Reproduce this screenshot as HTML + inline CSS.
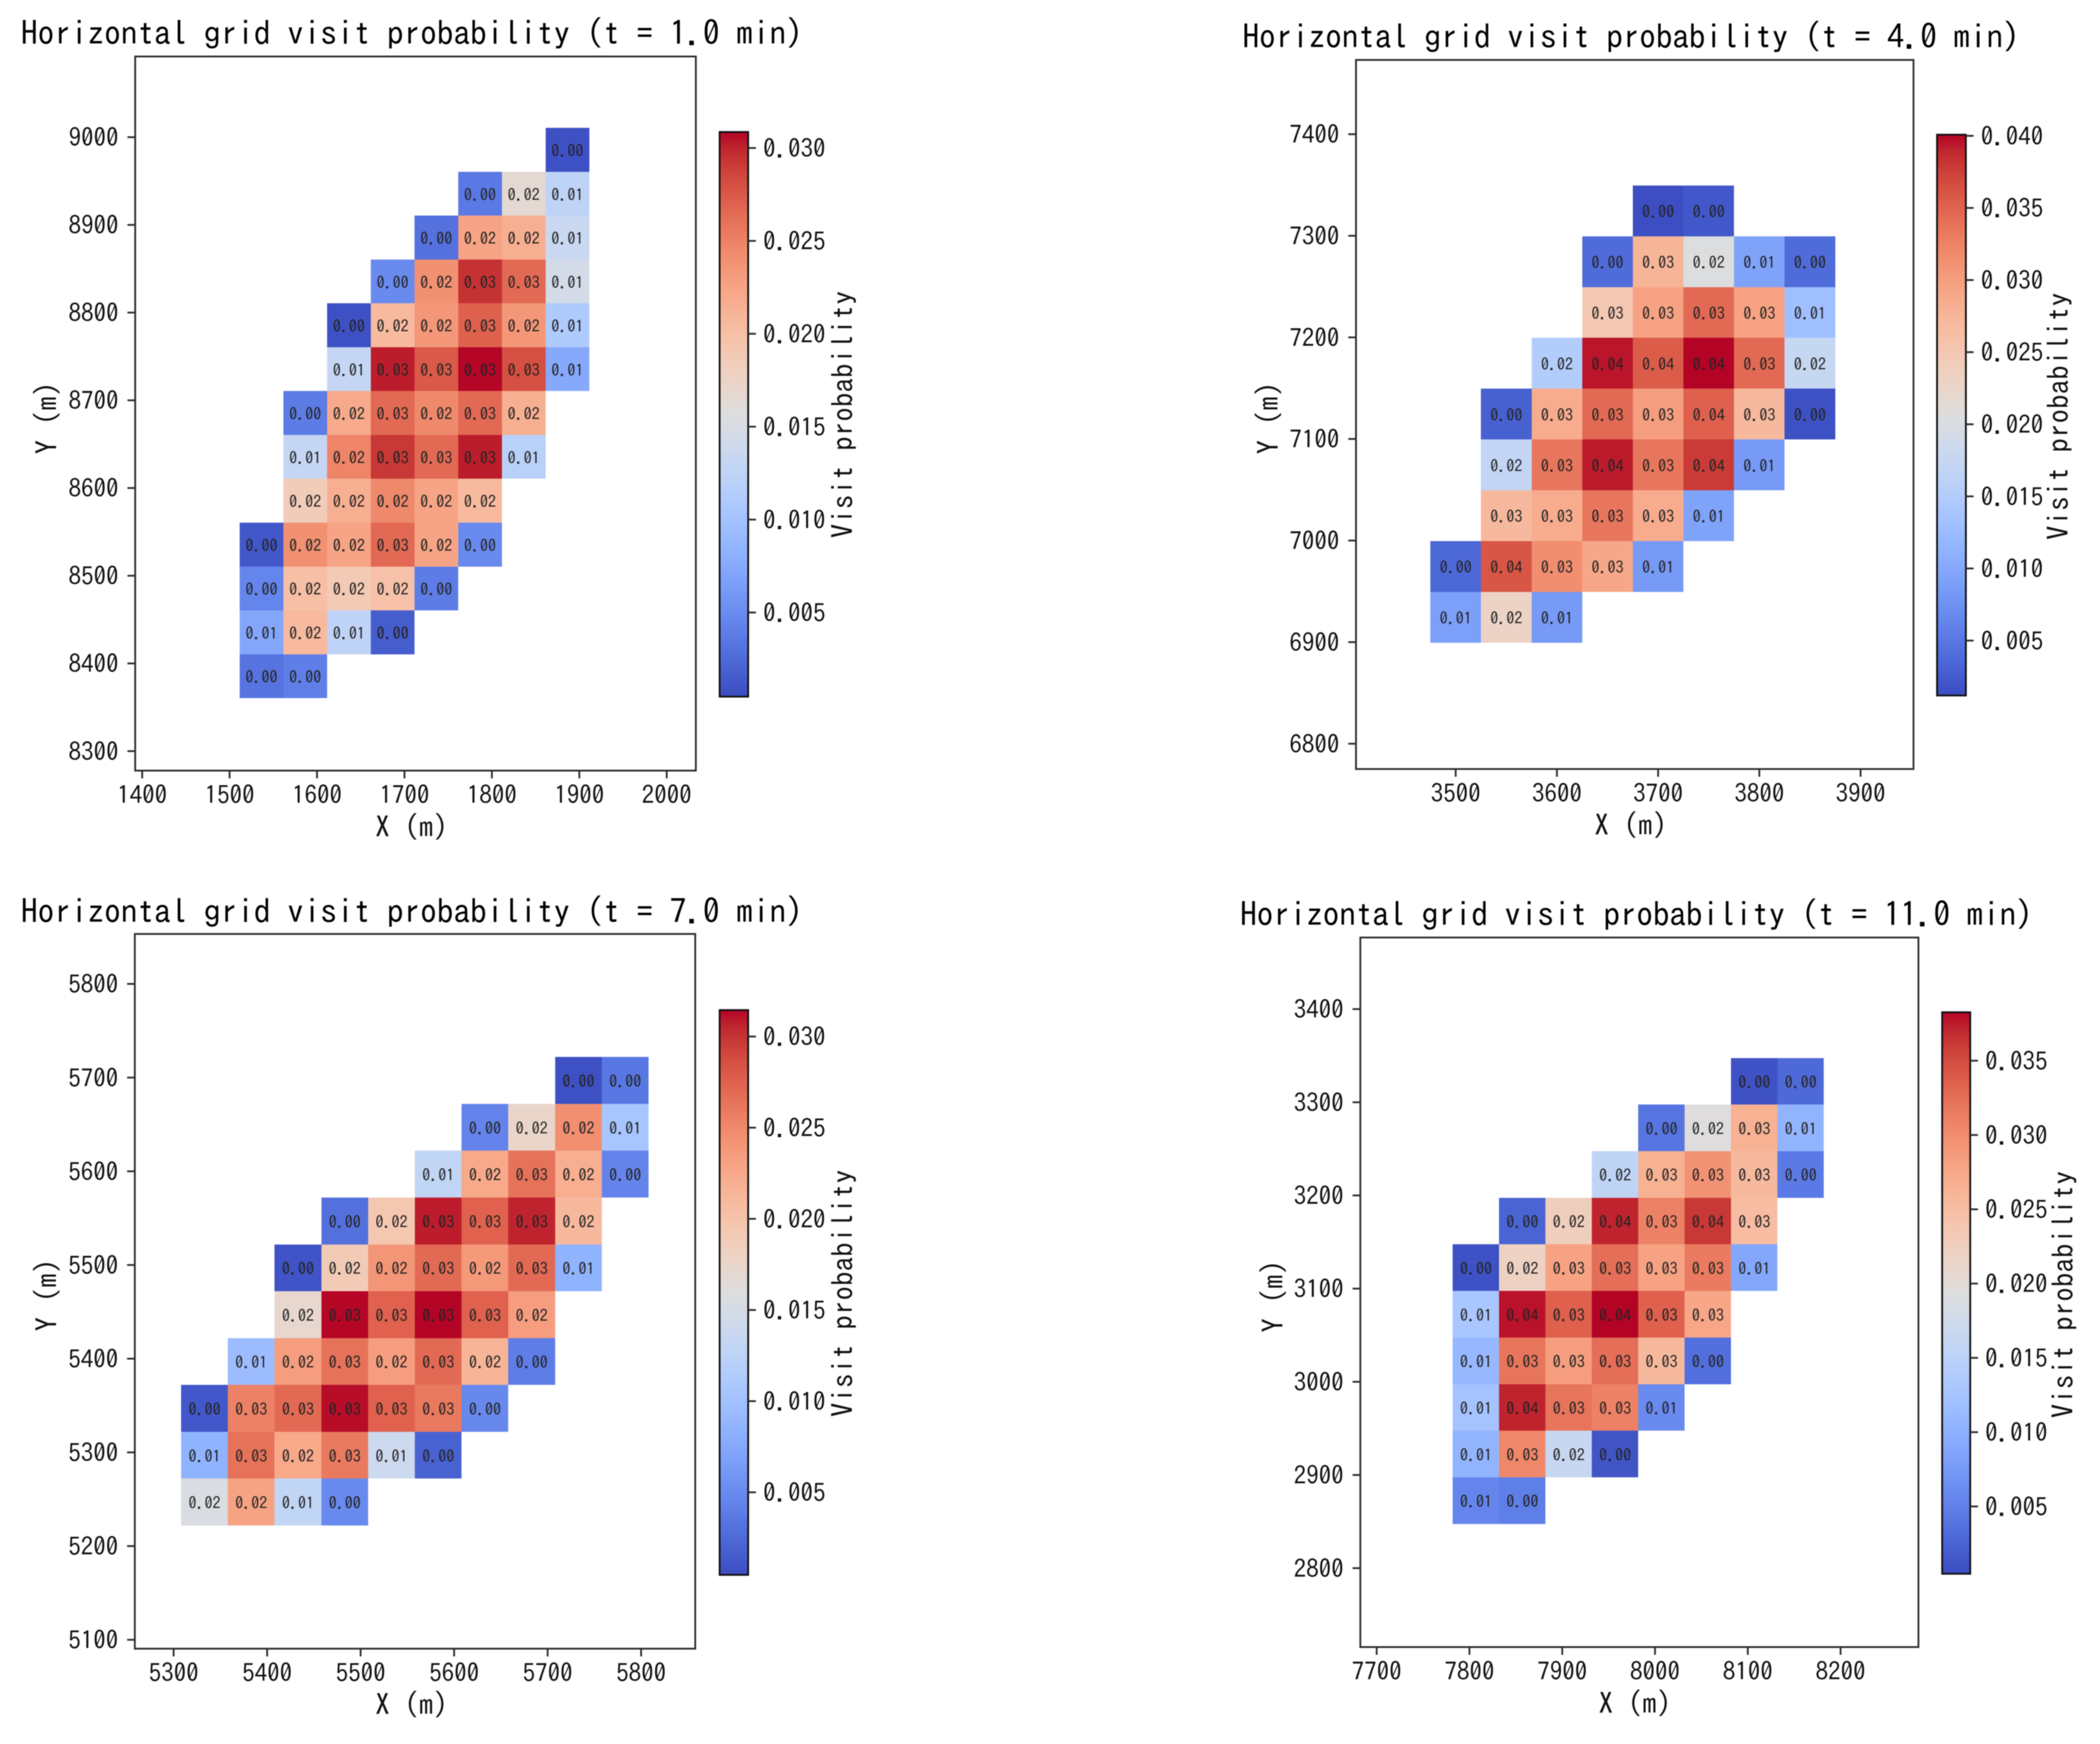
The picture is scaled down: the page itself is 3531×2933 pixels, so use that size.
<!DOCTYPE html>
<html lang="en">
<head>
<meta charset="utf-8">
<title>Horizontal grid visit probability</title>
<style>
  html, body { margin: 0; padding: 0; background: #fff; }
  #figure { display: block; filter: blur(0.8px); }
  text { font-family: "IPAGothic", "WenQuanYi Zen Hei", "Liberation Mono", monospace; fill: #111; }
  .title { font-size: 57px; fill: #000; }
  .axis-label { font-size: 49px; text-anchor: middle; dominant-baseline: central; }
  .tick-label { font-size: 42px; }
  .cell-label { font-size: 27px; text-anchor: middle; dominant-baseline: central; fill: #222; }
  .spine { fill: none; stroke: #2b2b2b; stroke-width: 3px; }
  .cbar-outline { fill: none; stroke: #111; stroke-width: 3px; }
  .tick { stroke: #2b2b2b; stroke-width: 3px; }
</style>
</head>
<body>
<svg id="figure" xmlns="http://www.w3.org/2000/svg" width="3531" height="2933" viewBox="0 0 3531 2933">
  <rect x="0" y="0" width="3531" height="2933" fill="#ffffff"/>
  <defs id="figure-defs"></defs>

  <g id="panel1">
    <text class="title" x="35" y="76" textLength="1315" lengthAdjust="spacing">Horizontal grid visit probability (t = 1.0 min)</text>
    <text class="axis-label" x="692" y="1390">X (m)</text>
    <text class="axis-label" transform="translate(78 703) rotate(-90)">Y (m)</text>
    <text class="axis-label" transform="translate(1416 697) rotate(-90)">Visit probability</text>
  </g>

  <g id="panel2">
    <text class="title" x="2089" y="82" textLength="1307" lengthAdjust="spacing">Horizontal grid visit probability (t = 4.0 min)</text>
    <text class="axis-label" x="2742" y="1387">X (m)</text>
    <text class="axis-label" transform="translate(2132 703) rotate(-90)">Y (m)</text>
    <text class="axis-label" transform="translate(3460 700) rotate(-90)">Visit probability</text>
  </g>

  <g id="panel3">
    <text class="title" x="35" y="1553" textLength="1315" lengthAdjust="spacing">Horizontal grid visit probability (t = 7.0 min)</text>
    <text class="axis-label" x="692" y="2866">X (m)</text>
    <text class="axis-label" transform="translate(78 2178) rotate(-90)">Y (m)</text>
    <text class="axis-label" transform="translate(1416 2175) rotate(-90)">Visit probability</text>
  </g>

  <g id="panel4">
    <text class="title" x="2085" y="1558" textLength="1333" lengthAdjust="spacing">Horizontal grid visit probability (t = 11.0 min)</text>
    <text class="axis-label" x="2749" y="2864">X (m)</text>
    <text class="axis-label" transform="translate(2140 2180) rotate(-90)">Y (m)</text>
    <text class="axis-label" transform="translate(3468 2177) rotate(-90)">Visit probability</text>
  </g>
</svg>

<script>
// ---- Panel 1 (t = 1.0 min) ----
const panel1XTicks = [1400, 1500, 1600, 1700, 1800, 1900, 2000];
const panel1YTicks = [8300, 8400, 8500, 8600, 8700, 8800, 8900, 9000];
const panel1CbarTicks = [0.005, 0.010, 0.015, 0.020, 0.025, 0.030];
const panel1ColorRange = [0.00047, 0.03086];
const panel1Columns = [1536.4, 1586.4, 1636.4, 1686.4, 1736.4, 1786.4, 1836.4, 1886.4];
const panel1Rows = [8985.5, 8935.5, 8885.5, 8835.5, 8785.5, 8735.5, 8685.5, 8635.5, 8585.5, 8535.5, 8485.5, 8435.5, 8385.5];
const panel1Values = [
  [null, null, null, null, null, null, null, 0.0008],
  [null, null, null, null, null, 0.0036, 0.0165, 0.0125],
  [null, null, null, null, 0.0030, 0.0225, 0.0215, 0.0135],
  [null, null, null, 0.0049, 0.0240, 0.0295, 0.0265, 0.0145],
  [null, null, 0.0008, 0.0205, 0.0235, 0.0270, 0.0235, 0.0110],
  [null, null, 0.0130, 0.0302, 0.0275, 0.0308, 0.0280, 0.0075],
  [null, 0.0038, 0.0220, 0.0265, 0.0245, 0.0265, 0.0215, null],
  [null, 0.0130, 0.0248, 0.0292, 0.0265, 0.0302, 0.0120, null],
  [null, 0.0185, 0.0215, 0.0245, 0.0225, 0.0205, null, null],
  [0.0012, 0.0240, 0.0225, 0.0265, 0.0225, 0.0048, null, null],
  [0.0045, 0.0200, 0.0188, 0.0198, 0.0038, null, null, null],
  [0.0072, 0.0205, 0.0125, 0.0016, null, null, null, null],
  [0.0032, 0.0040, null, null, null, null, null, null]
];

// ---- Panel 2 (t = 4.0 min) ----
const panel2XTicks = [3500, 3600, 3700, 3800, 3900];
const panel2YTicks = [6800, 6900, 7000, 7100, 7200, 7300, 7400];
const panel2CbarTicks = [0.005, 0.010, 0.015, 0.020, 0.025, 0.030, 0.035, 0.040];
const panel2ColorRange = [0.00119, 0.04008];
const panel2Columns = [3500, 3550, 3600, 3650, 3700, 3750, 3800, 3850];
const panel2Rows = [7324.5, 7274.5, 7224.5, 7174.5, 7124.5, 7074.5, 7024.5, 6974.5, 6924.5];
const panel2Values = [
  [null, null, null, null, 0.0014, 0.0022, null, null],
  [null, null, null, 0.0040, 0.0275, 0.0205, 0.0095, 0.0040],
  [null, null, null, 0.0250, 0.0295, 0.0345, 0.0295, 0.0130],
  [null, null, 0.0152, 0.0395, 0.0355, 0.0401, 0.0345, 0.0175],
  [null, 0.0030, 0.0285, 0.0345, 0.0300, 0.0352, 0.0270, 0.0016],
  [null, 0.0170, 0.0335, 0.0393, 0.0335, 0.0378, 0.0085, null],
  [null, 0.0270, 0.0285, 0.0335, 0.0285, 0.0095, null, null],
  [0.0036, 0.0360, 0.0315, 0.0290, 0.0085, null, null, null],
  [0.0090, 0.0230, 0.0085, null, null, null, null, null]
];

// ---- Panel 3 (t = 7.0 min) ----
const panel3XTicks = [5300, 5400, 5500, 5600, 5700, 5800];
const panel3YTicks = [5100, 5200, 5300, 5400, 5500, 5600, 5700, 5800];
const panel3CbarTicks = [0.005, 0.010, 0.015, 0.020, 0.025, 0.030];
const panel3ColorRange = [0.00047, 0.03145];
const panel3Columns = [5333, 5383, 5433, 5483, 5533, 5583, 5633, 5683, 5733, 5783];
const panel3Rows = [5697, 5647, 5597, 5547, 5497, 5447, 5397, 5347, 5297, 5247];
const panel3Values = [
  [null, null, null, null, null, null, null, null, 0.0008, 0.0035],
  [null, null, null, null, null, null, 0.0045, 0.0175, 0.0245, 0.0105],
  [null, null, null, null, null, 0.0130, 0.0225, 0.0265, 0.0220, 0.0045],
  [null, null, null, 0.0030, 0.0195, 0.0308, 0.0275, 0.0306, 0.0210, null],
  [null, null, 0.0010, 0.0190, 0.0240, 0.0270, 0.0238, 0.0270, 0.0085, null],
  [null, null, 0.0172, 0.0314, 0.0275, 0.0315, 0.0275, 0.0235, null, null],
  [null, 0.0095, 0.0235, 0.0265, 0.0235, 0.0270, 0.0215, 0.0040, null, null],
  [0.0012, 0.0255, 0.0270, 0.0312, 0.0275, 0.0260, 0.0048, null, null, null],
  [0.0085, 0.0265, 0.0225, 0.0260, 0.0140, 0.0020, null, null, null, null],
  [0.0155, 0.0230, 0.0130, 0.0049, null, null, null, null, null, null]
];

// ---- Panel 4 (t = 11.0 min) ----
const panel4XTicks = [7700, 7800, 7900, 8000, 8100, 8200];
const panel4YTicks = [2800, 2900, 3000, 3100, 3200, 3300, 3400];
const panel4CbarTicks = [0.005, 0.010, 0.015, 0.020, 0.025, 0.030, 0.035];
const panel4ColorRange = [0.00047, 0.03826];
const panel4Columns = [7807, 7857, 7907, 7957, 8007, 8057, 8107, 8157];
const panel4Rows = [3322.5, 3272.5, 3222.5, 3172.5, 3122.5, 3072.5, 3022.5, 2972.5, 2922.5, 2872.5];
const panel4Values = [
  [null, null, null, null, null, null, 0.0010, 0.0030],
  [null, null, null, null, 0.0040, 0.0195, 0.0265, 0.0105],
  [null, null, null, 0.0155, 0.0265, 0.0295, 0.0255, 0.0045],
  [null, 0.0025, 0.0225, 0.0372, 0.0310, 0.0362, 0.0252, null],
  [0.0010, 0.0220, 0.0280, 0.0325, 0.0280, 0.0315, 0.0090, null],
  [0.0130, 0.0378, 0.0335, 0.0383, 0.0335, 0.0275, null, null],
  [0.0110, 0.0320, 0.0285, 0.0325, 0.0255, 0.0035, null, null],
  [0.0125, 0.0372, 0.0320, 0.0310, 0.0060, null, null, null],
  [0.0105, 0.0305, 0.0165, 0.0012, null, null, null, null],
  [0.0055, 0.0049, null, null, null, null, null, null]
];

// ---- Layout (page geometry, not data) ----
const cellSize = 50;
const layouts = {
  panel1: { left: 227.3, right: 1170, top: 95, bottom: 1296, xMin: 1392.0, xMax: 2033.3, yMin: 8277.8, yMax: 9092, cbarLeft: 1210, cbarRight: 1258, cbarTop: 222, cbarBottom: 1171.6 },
  panel2: { left: 2280, right: 3217.4, top: 100.8, bottom: 1293.3, xMin: 3401.5, xMax: 3952.3, yMin: 6775.1, yMax: 7473.1, cbarLeft: 3257, cbarRight: 3305.5, cbarTop: 226.5, cbarBottom: 1169.7 },
  panel3: { left: 226.7, right: 1169, top: 1570.7, bottom: 2772.7, xMin: 5258.5, xMax: 5857.9, yMin: 5090.5, yMax: 5853.3, cbarLeft: 1210, cbarRight: 1258, cbarTop: 1698.7, cbarBottom: 2648.6 },
  panel4: { left: 2287.3, right: 3225.7, top: 1576.7, bottom: 2770, xMin: 7682.4, xMax: 8283.9, yMin: 2715.3, yMax: 3476.8, cbarLeft: 3265.6, cbarRight: 3312.8, cbarTop: 1702.4, cbarBottom: 2646.7 }
};

// Matplotlib "coolwarm" colormap anchors
const coolwarmAnchors = [
  [59,76,192],[68,90,204],[77,104,215],[87,117,225],[98,130,234],[108,142,241],[119,154,247],[130,165,251],
  [141,176,254],[152,185,255],[163,194,255],[174,201,253],[184,208,249],[194,213,244],[204,217,238],[213,219,230],
  [221,221,221],[229,216,209],[236,211,197],[241,204,185],[245,196,173],[247,187,160],[247,177,148],[247,166,135],
  [244,154,123],[241,141,111],[236,127,99],[229,112,88],[222,96,77],[213,80,66],[203,62,56],[192,40,47],[180,4,38]
];

const SVG_NS = 'http://www.w3.org/2000/svg';

function coolwarm(t) {
  const clamped = Math.max(0, Math.min(1, t));
  const pos = clamped * (coolwarmAnchors.length - 1);
  const i = Math.min(Math.floor(pos), coolwarmAnchors.length - 2);
  const f = pos - i;
  const a = coolwarmAnchors[i];
  const b = coolwarmAnchors[i + 1];
  return 'rgb(' + [0, 1, 2].map(function (k) { return Math.round(a[k] + (b[k] - a[k]) * f); }).join(',') + ')';
}

function linearScale(d0, d1, r0, r1) {
  return function (v) { return r0 + (v - d0) / (d1 - d0) * (r1 - r0); };
}

function make(tag, parent) {
  const el = document.createElementNS(SVG_NS, tag);
  parent.appendChild(el);
  return el;
}

function setAll(el, props) {
  Object.keys(props).forEach(function (k) { el.setAttribute(k, props[k]); });
}

function buildGradient() {
  const defs = document.getElementById('figure-defs');
  const grad = make('linearGradient', defs);
  setAll(grad, { id: 'coolwarm-gradient', x1: 0, y1: 1, x2: 0, y2: 0 });
  coolwarmAnchors.forEach(function (c, i) {
    const stop = make('stop', grad);
    setAll(stop, { offset: i / (coolwarmAnchors.length - 1), 'stop-color': 'rgb(' + c.join(',') + ')' });
  });
}

function drawPanel(id, suffix, L, columns, rows, values, xTicks, yTicks, cbarTicks, colorRange) {
  const root = document.getElementById(id);
  const x = linearScale(L.xMin, L.xMax, L.left, L.right);
  const y = linearScale(L.yMin, L.yMax, L.bottom, L.top);
  const colorT = linearScale(colorRange[0], colorRange[1], 0, 1);
  const cbarY = linearScale(colorRange[0], colorRange[1], L.cbarBottom, L.cbarTop);

  // heatmap cells
  values.forEach(function (rowValues, r) {
    rowValues.forEach(function (v, c) {
      if (v === null) return;
      const x0 = x(columns[c] - cellSize / 2);
      const x1 = x(columns[c] + cellSize / 2);
      const y0 = y(rows[r] + cellSize / 2);
      const y1 = y(rows[r] - cellSize / 2);
      const cell = make('rect', root);
      
      
      setAll(cell, { x: x0, y: y0, width: x1 - x0, height: y1 - y0, fill: coolwarm(colorT(v)), 'shape-rendering': 'crispEdges' });
    });
  });
  values.forEach(function (rowValues, r) {
    rowValues.forEach(function (v, c) {
      if (v === null) return;
      const label = make('text', root);
      
      
      setAll(label, { class: 'cell-label', x: x(columns[c]), y: y(rows[r]) + 2 });
      label.textContent = v.toFixed(2);
    });
  });

  // spines
  const spine = make('rect', root);
  
  
  setAll(spine, { class: 'spine', x: L.left, y: L.top, width: L.right - L.left, height: L.bottom - L.top });

  // x ticks
  xTicks.forEach(function (v) {
    const tick = make('line', root);
    
    
    setAll(tick, { class: 'tick', x1: x(v), x2: x(v), y1: L.bottom, y2: L.bottom + 13 });
    const label = make('text', root);
    
    
    setAll(label, { class: 'tick-label', x: x(v), y: L.bottom + 56, 'text-anchor': 'middle' });
    label.textContent = String(v);
  });

  // y ticks
  yTicks.forEach(function (v) {
    const tick = make('line', root);
    
    
    setAll(tick, { class: 'tick', x1: L.left - 13, x2: L.left, y1: y(v), y2: y(v) });
    const label = make('text', root);
    
    
    setAll(label, { class: 'tick-label', x: L.left - 28, y: y(v) + 16, 'text-anchor': 'end' });
    label.textContent = String(v);
  });

  // colorbar
  const bar = make('rect', root);
  
  
  setAll(bar, { x: L.cbarLeft, y: L.cbarTop, width: L.cbarRight - L.cbarLeft, height: L.cbarBottom - L.cbarTop, fill: 'url(#coolwarm-gradient)' });
  const outline = make('rect', root);
  
  
  setAll(outline, { class: 'cbar-outline', x: L.cbarLeft, y: L.cbarTop, width: L.cbarRight - L.cbarLeft, height: L.cbarBottom - L.cbarTop });

  cbarTicks.forEach(function (v) {
    const tick = make('line', root);
    
    
    setAll(tick, { class: 'tick', x1: L.cbarRight, x2: L.cbarRight + 13, y1: cbarY(v), y2: cbarY(v) });
    const label = make('text', root);
    
    
    setAll(label, { class: 'tick-label', x: L.cbarRight + 25, y: cbarY(v) + 16 });
    label.textContent = v.toFixed(3);
  });
}

buildGradient();
drawPanel('panel1', 't-1', layouts.panel1, panel1Columns, panel1Rows, panel1Values, panel1XTicks, panel1YTicks, panel1CbarTicks, panel1ColorRange);
drawPanel('panel2', 't-4', layouts.panel2, panel2Columns, panel2Rows, panel2Values, panel2XTicks, panel2YTicks, panel2CbarTicks, panel2ColorRange);
drawPanel('panel3', 't-7', layouts.panel3, panel3Columns, panel3Rows, panel3Values, panel3XTicks, panel3YTicks, panel3CbarTicks, panel3ColorRange);
drawPanel('panel4', 't-11', layouts.panel4, panel4Columns, panel4Rows, panel4Values, panel4XTicks, panel4YTicks, panel4CbarTicks, panel4ColorRange);
</script>
</body>
</html>
